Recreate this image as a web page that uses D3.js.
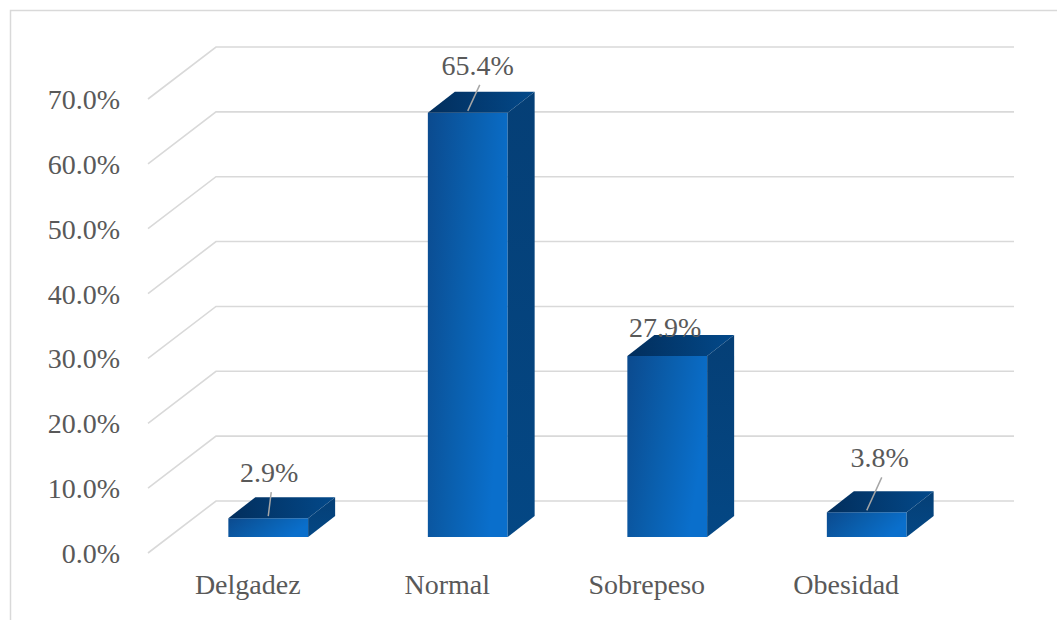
<!DOCTYPE html>
<html>
  <head>
    <meta charset="utf-8">
    <title>Estado nutricional</title>
    <script src="https://d3js.org/d3.v7.min.js"></script>
    <style type="text/css">
      html, body {
        margin: 0; padding: 0;
        background: #fff;
      }
    </style>
  </head>
  <body>
    <svg width="1057" height="620"></svg>

    <script type="text/javascript">
      // data
      var categories = ["Delgadez", "Normal", "Sobrepeso", "Obesidad"];
      var values = [2.9, 65.4, 27.9, 3.8];
      var ticks = [0, 10, 20, 30, 40, 50, 60, 70];

      // hand placed data labels in the original (dx from bar centre, dy above bar top, leader line?)
      var labelNudge = [[1, 36, true], [10, 38, true], [-2, 19, false], [13, 45, true]];

      var FONT = "Liberation Serif";
      var FS = "28px";
      var TXT = "#595959";

      var svg = d3.select("svg");

      // outer chart border
      svg.append("rect")
         .attr("x", 10.5).attr("y", 10.5)
         .attr("width", 1060).attr("height", 640)
         .attr("fill", "none")
         .attr("stroke", "#d9d9d9")
         .attr("stroke-width", 1.5);

      // 3D depth of the floor / back wall and of the bars
      var depth = {dx: 68, dy: -52};
      var barDepth = {dx: 27, dy: -21};
      var barShift = {dx: 20.5, dy: -16};
      var xEnd = 1014;

      var y = d3.scaleLinear().domain([0, 70]).range([553, 99]);
      var x = d3.scaleBand().domain(categories).range([148, 946]);

      var defs = svg.append("defs");
      function grad(id, stops, x2, y2) {
        var g = defs.append("linearGradient").attr("id", id)
                    .attr("x1", 0).attr("y1", 0).attr("x2", x2).attr("y2", y2);
        stops.forEach(function(s) {
          g.append("stop").attr("offset", s[0]).attr("stop-color", s[1]);
        });
      }
      grad("gFront", [[0, "#0b4a8e"], [0.5, "#0a5eac"], [1, "#0a6fcc"]], 1, 0.35);
      grad("gTop", [[0, "#022e5c"], [1, "#03498a"]], 1, 0);
      grad("gSide", [[0, "#053f76"], [1, "#044784"]], 0, 1);

      // gridlines: diagonal floor edge then back wall line
      var gridG = svg.append("g");
      gridG.selectAll("path")
           .data(ticks)
           .enter()
           .append("path")
           .attr("d", function(d) {
             var y0 = y(d);
             return "M" + x.range()[0] + "," + y0 +
                    "L" + (x.range()[0] + depth.dx) + "," + (y0 + depth.dy) +
                    "L" + xEnd + "," + (y0 + depth.dy);
           })
           .attr("fill", "none")
           .attr("stroke", "#d9d9d9")
           .attr("stroke-width", 1.6);

      function label(sel) {
        sel.style("font-family", FONT)
           .style("font-size", FS)
           .style("fill", TXT);
      }

      // y tick labels
      svg.append("g").selectAll("text")
         .data(ticks)
         .enter()
         .append("text")
         .attr("x", 120)
         .attr("y", function(d) { return y(d) + 10; })
         .attr("text-anchor", "end")
         .call(label)
         .text(function(d) { return d.toFixed(1) + "%"; });

      // category labels
      svg.append("g").selectAll("text")
         .data(categories)
         .enter()
         .append("text")
         .attr("x", function(d) { return x(d) + x.bandwidth() / 2; })
         .attr("y", 594)
         .attr("text-anchor", "middle")
         .call(label)
         .text(function(d) { return d; });

      // bars
      var bw = x.bandwidth() * 0.4;
      var bars = categories.map(function(c, i) {
        var fx = x(c) + x.bandwidth() * 0.3 + barShift.dx;
        return {
          fx: fx,
          top: y(values[i]) + barShift.dy,
          bottom: y(0) + barShift.dy,
          v: values[i],
          i: i
        };
      });

      var barG = svg.append("g").selectAll("g")
                    .data(bars)
                    .enter()
                    .append("g");

      barG.append("path")
          .attr("d", function(d) {
            return "M" + d.fx + "," + d.top + "h" + bw + "V" + d.bottom + "h" + (-bw) + "Z";
          })
          .attr("fill", "url(#gFront)");

      barG.append("path")
          .attr("d", function(d) {
            return "M" + d.fx + "," + d.top +
                   "l" + barDepth.dx + "," + barDepth.dy +
                   "h" + bw +
                   "l" + (-barDepth.dx) + "," + (-barDepth.dy) + "Z";
          })
          .attr("fill", "url(#gTop)");

      barG.append("path")
          .attr("d", function(d) {
            return "M" + (d.fx + bw) + "," + d.top +
                   "l" + barDepth.dx + "," + barDepth.dy +
                   "V" + (d.bottom + barDepth.dy) +
                   "L" + (d.fx + bw) + "," + d.bottom + "Z";
          })
          .attr("fill", "url(#gSide)");

      // data labels with leader lines
      barG.each(function(d) {
        var g = d3.select(this);
        var n = labelNudge[d.i];
        var cx = d.fx + bw / 2;
        var lx = cx + n[0];
        var ly = d.top - n[1];
        if (n[2]) {
          g.append("line")
           .attr("x1", lx + 2).attr("y1", ly + 10)
           .attr("x2", cx).attr("y2", d.top - 2)
           .attr("stroke", "#a6a6a6")
           .attr("stroke-width", 1.5);
        }
        g.append("text")
         .attr("x", lx)
         .attr("y", ly)
         .attr("text-anchor", "middle")
         .call(label)
         .text(d.v.toFixed(1) + "%");
      });
    </script>
  </body>
</html>
